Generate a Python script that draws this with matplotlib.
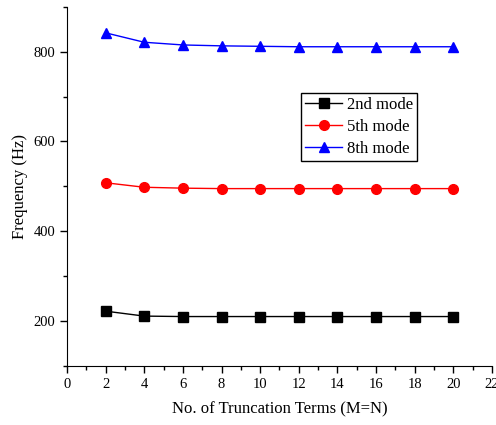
import numpy as np
import matplotlib.pyplot as plt
from matplotlib.ticker import MultipleLocator

plt.rcParams['font.family'] = ['Liberation Serif', 'DejaVu Serif']
plt.rcParams['mathtext.fontset'] = 'stix'

terms = [2, 4, 6, 8, 10, 12, 14, 16, 18, 20]
mode2 = [222, 211, 210, 210, 210, 210, 210, 210, 210, 210]
mode5 = [508, 498, 496, 495, 495, 495, 495, 495, 495, 495]
mode8 = [842, 821, 815, 813, 812, 811, 811, 811, 811, 811]

fig = plt.figure(figsize=(4.96, 4.25), dpi=100)
ax = fig.add_axes([0.135, 0.139, 0.857, 0.845])

ax.plot(terms, mode2, color='black', marker='s', markersize=6.5, lw=1, label='2nd mode')
ax.plot(terms, mode5, color='red', marker='o', markersize=7, lw=1, label='5th mode')
ax.plot(terms, mode8, color='blue', marker='^', markersize=7.5, lw=1, label='8th mode')

ax.set_xlim(0, 22)
ax.set_ylim(100, 900)
ax.xaxis.set_major_locator(MultipleLocator(2))
ax.xaxis.set_minor_locator(MultipleLocator(1))
ax.yaxis.set_major_locator(MultipleLocator(200))
ax.yaxis.set_minor_locator(MultipleLocator(100))
ax.spines['top'].set_visible(False)
ax.spines['right'].set_visible(False)
ax.tick_params(which='major', direction='out', length=5, width=1, labelsize=10.5)
ax.tick_params(which='minor', direction='out', length=3, width=1)

ax.set_xlabel('No. of Truncation Terms (M=N)', fontsize=12, labelpad=8)
ax.set_ylabel('Frequency (Hz)', fontsize=12)

leg = ax.legend(loc='upper left', bbox_to_anchor=(0.551, 0.76), fontsize=12,
                frameon=True, fancybox=False, edgecolor='black', framealpha=1,
                borderpad=0.25, labelspacing=0.35, handlelength=2.2, handletextpad=0.3,
                borderaxespad=0)
leg.get_frame().set_linewidth(1)

fig.savefig('out.png', dpi=100)
